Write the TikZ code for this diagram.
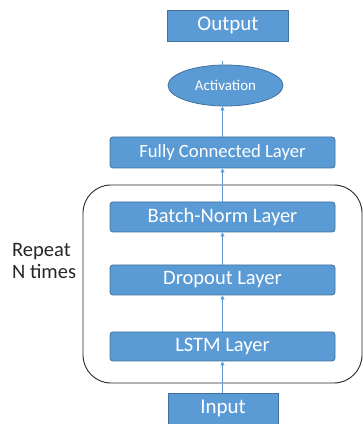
\documentclass[tikz,border=0pt]{standalone}
\usepackage{fontspec}
\setmainfont{Carlito}
\usetikzlibrary{arrows.meta,shapes.geometric}
\definecolor{bfill}{HTML}{5B9BD5}
\definecolor{bdraw}{HTML}{41719C}
\begin{document}
\begin{tikzpicture}[x=1pt,y=1pt,
  blk/.style={draw=bdraw,fill=bfill,line width=0.8pt,text=white,inner sep=0pt,minimum height=30pt},
  layer/.style={blk,rounded corners=3pt,minimum width=225pt,font=\fontsize{20.5}{22}\selectfont},
  io/.style={blk,minimum height=31pt,font=\fontsize{21}{23}\selectfont},
  conn/.style={draw=bfill,line width=0.7pt,-{Triangle[length=4pt,width=4pt]}}
]
\useasboundingbox (0,0) rectangle (363,424);
\node[draw=black!85,line width=0.9pt,rounded corners=28pt,minimum width=279pt,minimum height=198pt,inner sep=0pt] (loop) at (222.5,140) {};
\node[io,minimum width=121pt] (out) at (228,398.5) {Output};
\node[blk,ellipse,minimum width=115pt,minimum height=41pt,font=\fontsize{15}{17}\selectfont] (act) at (225.5,338.5) {Activation};
\node[layer,minimum height=31pt,font=\fontsize{18.7}{20}\selectfont] (fc) at (222.5,271.5) {Fully Connected Layer};
\node[layer] (bn) at (222.5,207) {Batch-Norm Layer};
\node[layer] (dr) at (222.5,144) {Dropout Layer};
\node[layer,minimum height=29pt] (ls) at (222.5,77.5) {LSTM Layer};
\node[io,minimum width=110pt] (in) at (223,15.5) {Input};
\node[anchor=west,align=left,text=black!85,font=\fontsize{20.5}{22}\selectfont,inner sep=0pt] (rep) at (12,163) {Repeat\\N times};
\draw[conn] (in.north -| ls.south) -- (ls.south);
\draw[conn] (ls) -- (dr);
\draw[conn] (dr) -- (bn);
\draw[conn] (bn) -- (fc);
\draw[conn] (fc.north) -- (fc.north |- act.south);
\draw[conn] (act.north -| fc.north) -- (act.north -| fc.north |- out.south);
\end{tikzpicture}
\end{document}
